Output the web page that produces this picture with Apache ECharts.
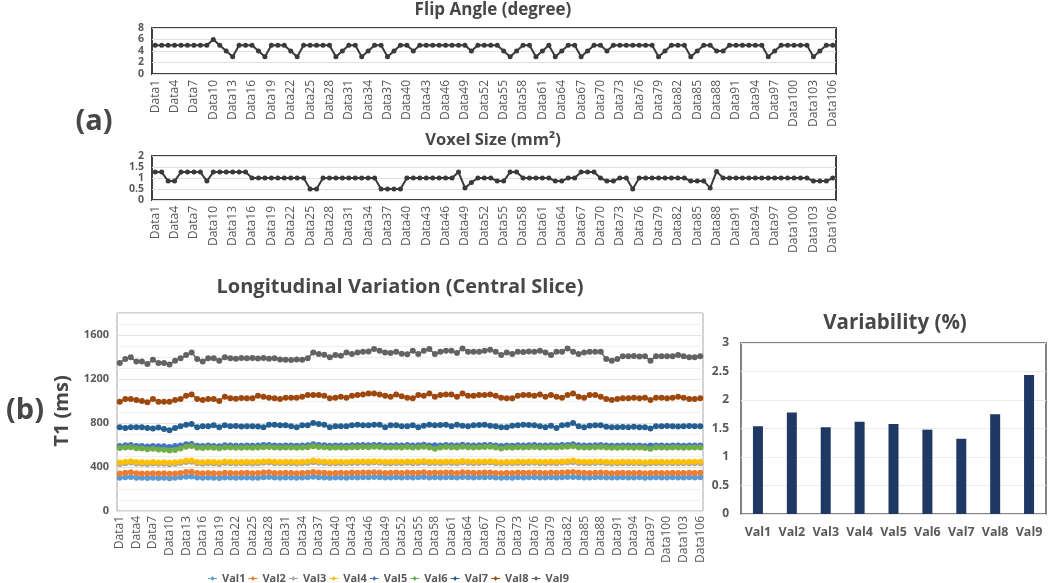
<!DOCTYPE html>
<html><head><meta charset="utf-8">
<script src="https://cdn.jsdelivr.net/npm/echarts@6/dist/echarts.min.js"></script>
<style>html,body{margin:0;padding:0;background:#fff}#c{width:1050px;height:583px}</style>
</head><body><div id="c"></div>
<script>
// ---------- DATA ----------
const categories = [];
for (let i = 1; i <= 106; i++) categories.push('Data' + i);

const flipAngle = [
 5,5,5,5,5,5,5,5,5,6,
 5,4,3,5,5,5,4,3,5,5,
 5,4,3,5,5,5,5,5,3,4,
 5,5,3,4,5,5,3,4,5,5,
 4,5,5,5,5,5,5,5,5,4,
 5,5,5,5,4,3,4,5,5,3,
 4,5,3,4,5,5,3,4,5,5,
 4,5,5,5,5,5,5,5,3,4,
 5,5,5,3,4,5,5,4,4,5,
 5,5,5,5,5,3,4,5,5,5,
 5,5,3,4,5,5];

const voxelSize = [
 1.27,1.27,0.86,0.86,1.27,1.27,1.27,1.27,0.86,1.27,
 1.27,1.27,1.27,1.27,1.27,1,1,1,1,1,
 1,1,1,1,0.5,0.5,1,1,1,1,
 1,1,1,1,1,0.5,0.5,0.5,0.5,1,
 1,1,1,1,1,1,1,1.27,0.55,0.8,
 1,1,1,0.86,0.86,1.27,1.27,1,1,1,
 1,1,0.86,0.86,1,1,1.27,1.27,1.27,1,
 0.86,0.86,1,1,0.5,1,1,1,1,1,
 1,1,1,0.86,0.86,0.86,0.55,1.3,1,1,
 1,1,1,1,1,1,1,1,1,1,
 1,1,0.86,0.86,0.86,1];

const val1 = [
 302,306,308,303,302,300,303,301,302,298,
 303,306,312,314,304,302,305,303,300,305,
 304,303,304,305,302,303,307,309,304,303,
 305,304,302,304,306,311,307,305,302,304,
 305,303,306,305,307,306,309,307,304,305,
 306,304,307,305,306,309,304,306,305,307,
 306,304,309,306,305,306,307,308,304,302,
 305,303,306,305,306,307,305,304,306,305,
 307,308,310,306,305,304,306,307,305,304,
 305,306,305,304,306,303,305,306,305,304,
 306,305,304,306,305,306];
const val2 = [
 340,348,352,344,342,340,344,342,343,338,
 342,346,354,356,345,343,346,344,340,348,
 346,344,345,347,344,346,350,352,346,345,
 347,346,344,346,348,354,350,348,344,346,
 347,345,349,348,350,349,352,350,346,347,
 349,346,350,347,348,352,346,349,347,350,
 349,346,352,349,347,348,350,351,346,344,
 347,345,349,347,348,350,347,346,349,347,
 350,352,354,349,347,346,348,350,347,344,
 345,347,346,345,347,343,346,347,346,345,
 347,346,345,347,346,347];
const val3 = [
 428,435,440,432,430,427,432,429,430,425,
 430,436,445,448,433,430,434,432,428,436,
 434,432,433,435,432,434,438,440,434,433,
 435,434,432,434,437,444,439,437,432,434,
 435,433,437,436,438,437,440,438,434,435,
 437,434,438,435,436,441,434,437,435,438,
 437,434,441,437,435,436,438,440,434,431,
 435,433,437,435,436,438,435,434,437,435,
 438,440,443,437,435,434,436,438,435,432,
 433,435,434,433,435,430,434,435,434,433,
 435,434,433,435,434,435];
const val4 = [
 440,448,452,445,443,440,445,442,443,438,
 443,448,458,460,446,443,447,445,441,449,
 447,445,446,448,445,447,451,453,447,446,
 448,447,445,447,450,458,452,450,445,447,
 448,446,450,449,451,450,453,451,447,448,
 450,447,451,448,449,454,447,450,448,451,
 450,447,454,450,448,449,451,453,447,444,
 448,446,450,448,449,451,448,447,450,448,
 451,453,458,450,448,447,449,451,448,445,
 446,448,447,446,448,443,447,448,447,446,
 448,447,446,448,447,448];
const val5 = [
 590,598,600,592,590,586,591,588,589,582,
 590,596,606,610,594,590,595,592,588,597,
 595,593,594,596,593,595,599,601,595,594,
 596,595,593,595,598,606,600,598,593,595,
 596,594,598,597,599,598,601,599,595,596,
 598,595,599,596,597,602,595,598,596,599,
 598,595,602,598,596,597,599,601,595,592,
 596,594,598,596,597,599,596,595,598,596,
 599,601,606,598,596,595,597,599,596,593,
 594,596,595,594,596,591,595,596,595,594,
 596,595,594,596,595,596];
const val6 = [
 572,578,580,570,568,562,565,560,556,550,
 555,568,585,590,576,572,577,574,570,578,
 577,575,576,578,575,577,580,582,577,576,
 578,577,575,577,580,588,582,580,575,577,
 578,576,580,579,581,580,583,581,577,578,
 580,577,581,578,579,584,577,566,578,581,
 580,577,584,580,578,579,581,583,577,568,
 578,576,580,578,579,581,578,577,580,578,
 581,583,588,580,578,577,579,581,578,575,
 576,578,577,576,578,573,566,578,577,576,
 578,577,576,578,577,578];
const val7 = [
 761,755,761,761,761,755,749,758,745,735,
 755,770,785,791,761,770,770,779,761,779,
 770,772,768,770,771,769,761,785,785,779,
 779,770,761,779,779,800,791,785,761,770,
 770,770,779,785,779,779,785,785,761,779,
 779,770,770,779,761,776,785,779,782,785,
 770,785,776,770,779,782,785,776,770,761,
 761,776,779,785,782,779,770,761,776,755,
 779,785,800,770,761,776,779,779,765,761,
 761,764,761,765,761,761,749,770,770,772,
 770,768,770,772,770,770];
const val8 = [
 994,1018,1018,1009,1000,988,1018,994,994,994,
 1009,1018,1048,1060,1018,1009,1018,1018,1000,1039,
 1024,1020,1028,1024,1026,1048,1039,1030,1024,1018,
 1030,1030,1030,1039,1054,1054,1054,1048,1024,1030,
 1039,1030,1048,1054,1060,1069,1069,1060,1048,1039,
 1060,1044,1030,1024,1054,1048,1069,1039,1054,1060,
 1060,1039,1069,1048,1048,1054,1054,1060,1048,1030,
 1024,1024,1048,1054,1054,1048,1060,1039,1054,1039,
 1030,1054,1069,1039,1030,1054,1054,1039,1018,1009,
 1018,1024,1024,1030,1024,1030,1009,1030,1030,1024,
 1030,1039,1030,1018,1018,1024];
const val9 = [
 1346,1382,1397,1358,1358,1337,1376,1346,1346,1331,
 1367,1388,1418,1442,1382,1358,1388,1388,1367,1397,
 1388,1385,1390,1388,1392,1386,1390,1385,1388,1378,
 1375,1372,1378,1376,1388,1442,1427,1421,1397,1418,
 1412,1442,1427,1442,1448,1451,1472,1457,1442,1436,
 1448,1430,1425,1457,1427,1457,1472,1427,1448,1457,
 1457,1436,1478,1448,1448,1448,1457,1466,1448,1418,
 1442,1427,1448,1445,1450,1448,1457,1442,1418,1448,
 1448,1478,1448,1427,1442,1448,1448,1448,1382,1367,
 1382,1406,1406,1408,1404,1406,1367,1406,1406,1406,
 1406,1418,1406,1397,1397,1406];

const seriesNames = ['Val1','Val2','Val3','Val4','Val5','Val6','Val7','Val8','Val9'];
const variability = [1.54, 1.78, 1.52, 1.62, 1.58, 1.48, 1.32, 1.75, 2.44];

// ---------- STYLE ----------
const FONT = '"Open Sans", "Noto Sans", sans-serif';
const TXT = '#595959';
const HEAD = '#474747';
const colors = ['#5B9BD5','#ED7D31','#A5A5A5','#FFC000','#4472C4','#70AD47','#255E91','#9E480E','#636363'];
const longData = [val1,val2,val3,val4,val5,val6,val7,val8,val9];

const catAxis = (gi, margin) => ({
  gridIndex: gi, type: 'category', data: categories, boundaryGap: true,
  axisLine: {show: false}, axisTick: {show: false},
  axisLabel: {interval: 2, rotate: 90, fontSize: 12, color: TXT, fontFamily: FONT, margin: margin}
});
const valAxis = (gi, min, max, interval, extra) => Object.assign({
  gridIndex: gi, type: 'value', min: min, max: max, interval: interval,
  axisLine: {show: false}, axisTick: {show: false},
  axisLabel: {fontSize: 10.5, fontWeight: 'bold', color: TXT, fontFamily: FONT, margin: 8,
              showMinLabel: true, showMaxLabel: true, hideOverlap: false},
  splitLine: {lineStyle: {color: '#e0e0e0', width: 1}}
}, extra || {});

const series = [
  {name: 'flip', type: 'line', xAxisIndex: 0, yAxisIndex: 0, data: flipAngle, showAllSymbol: true,
   symbol: 'circle', symbolSize: 5, lineStyle: {color: '#3a3a3a', width: 2}, itemStyle: {color: '#3a3a3a'}},
  {name: 'voxel', type: 'line', xAxisIndex: 1, yAxisIndex: 1, data: voxelSize, showAllSymbol: true,
   symbol: 'circle', symbolSize: 5, lineStyle: {color: '#3a3a3a', width: 2}, itemStyle: {color: '#3a3a3a'}}
];
seriesNames.forEach((n, k) => series.push({
  name: n, type: 'line', xAxisIndex: 2, yAxisIndex: 2, data: longData[k], showAllSymbol: true,
  symbol: 'circle', symbolSize: 6, lineStyle: {color: colors[k], width: 1.5},
  itemStyle: {color: colors[k]}
}));
series.push({name: 'variability', type: 'bar', xAxisIndex: 3, yAxisIndex: 3, data: variability,
  barWidth: 10, itemStyle: {color: '#203864'}});

const txt = (text, x, y, size, extra) => Object.assign({
  type: 'text', x: x, y: y,
  style: {text: text, font: 'bold ' + size + 'px ' + FONT, fill: HEAD,
          textAlign: 'center', textVerticalAlign: 'middle', align: 'center', verticalAlign: 'middle'}
}, extra || {});

const option = {
  animation: false,
  backgroundColor: '#ffffff',
  textStyle: {fontFamily: FONT},
  grid: [
    {left: 152, top: 28, width: 684, height: 46, show: true, borderColor: '#404040', borderWidth: 2},
    {left: 152, top: 156, width: 684, height: 44, show: true, borderColor: '#404040', borderWidth: 2},
    {left: 117, top: 313, width: 586, height: 198, show: true, borderColor: '#a6a6a6', borderWidth: 1},
    {left: 741, top: 343, width: 305, height: 171, show: true, borderColor: '#595959', borderWidth: 1.5}
  ],
  xAxis: [
    catAxis(0, 6), catAxis(1, 6), catAxis(2, 5),
    {gridIndex: 3, type: 'category', data: seriesNames, axisLine: {show: false}, axisTick: {show: false},
     axisLabel: {interval: 0, hideOverlap: false, fontSize: 12.5, fontWeight: 'bold', color: TXT,
                 fontFamily: FONT, margin: 12}}
  ],
  yAxis: [
    valAxis(0, 0, 8, 2),
    valAxis(1, 0, 2, 0.5),
    valAxis(2, 0, 1800, 400, {
      axisLabel: {fontSize: 11, fontWeight: 'bold', color: TXT, fontFamily: FONT, margin: 8,
                  formatter: v => (v === 1800 ? '' : String(v))},
      splitLine: {lineStyle: {color: '#e3e3e3'}},
      minorTick: {show: false, splitNumber: 4},
      minorSplitLine: {show: true, lineStyle: {color: '#f0f0f0'}}
    }),
    valAxis(3, 0, 3, 0.5, {
      axisLabel: {fontSize: 12, fontWeight: 'bold', color: TXT, fontFamily: FONT, margin: 12},
      splitLine: {lineStyle: {color: '#ececec'}}
    })
  ],
  legend: {
    data: seriesNames, left: 203, top: 568, itemWidth: 9, itemHeight: 8, itemGap: 3,
    icon: 'path://M0,4.3h14v1.4h-14z M7,1 L10,5 L7,9 L4,5z',
    textStyle: {fontSize: 11, fontWeight: 'bold', color: TXT, fontFamily: FONT}
  },
  graphic: [
    txt('Flip Angle (degree)', 493, 10, 17),
    txt('Voxel Size (mm²)', 493, 140, 16.5),
    txt('Longitudinal Variation (Central Slice)', 400, 287, 20),
    txt('Variability (%)', 895, 323, 20.5),
    txt('(a)', 94, 122, 29),
    txt('(b)', 25, 411, 29),
    txt('T1 (ms)', 62, 411, 20, {rotation: Math.PI / 2})
  ],
  series: series
};

const chart = echarts.init(document.getElementById('c'));
chart.setOption(option);
</script>
</body></html>
